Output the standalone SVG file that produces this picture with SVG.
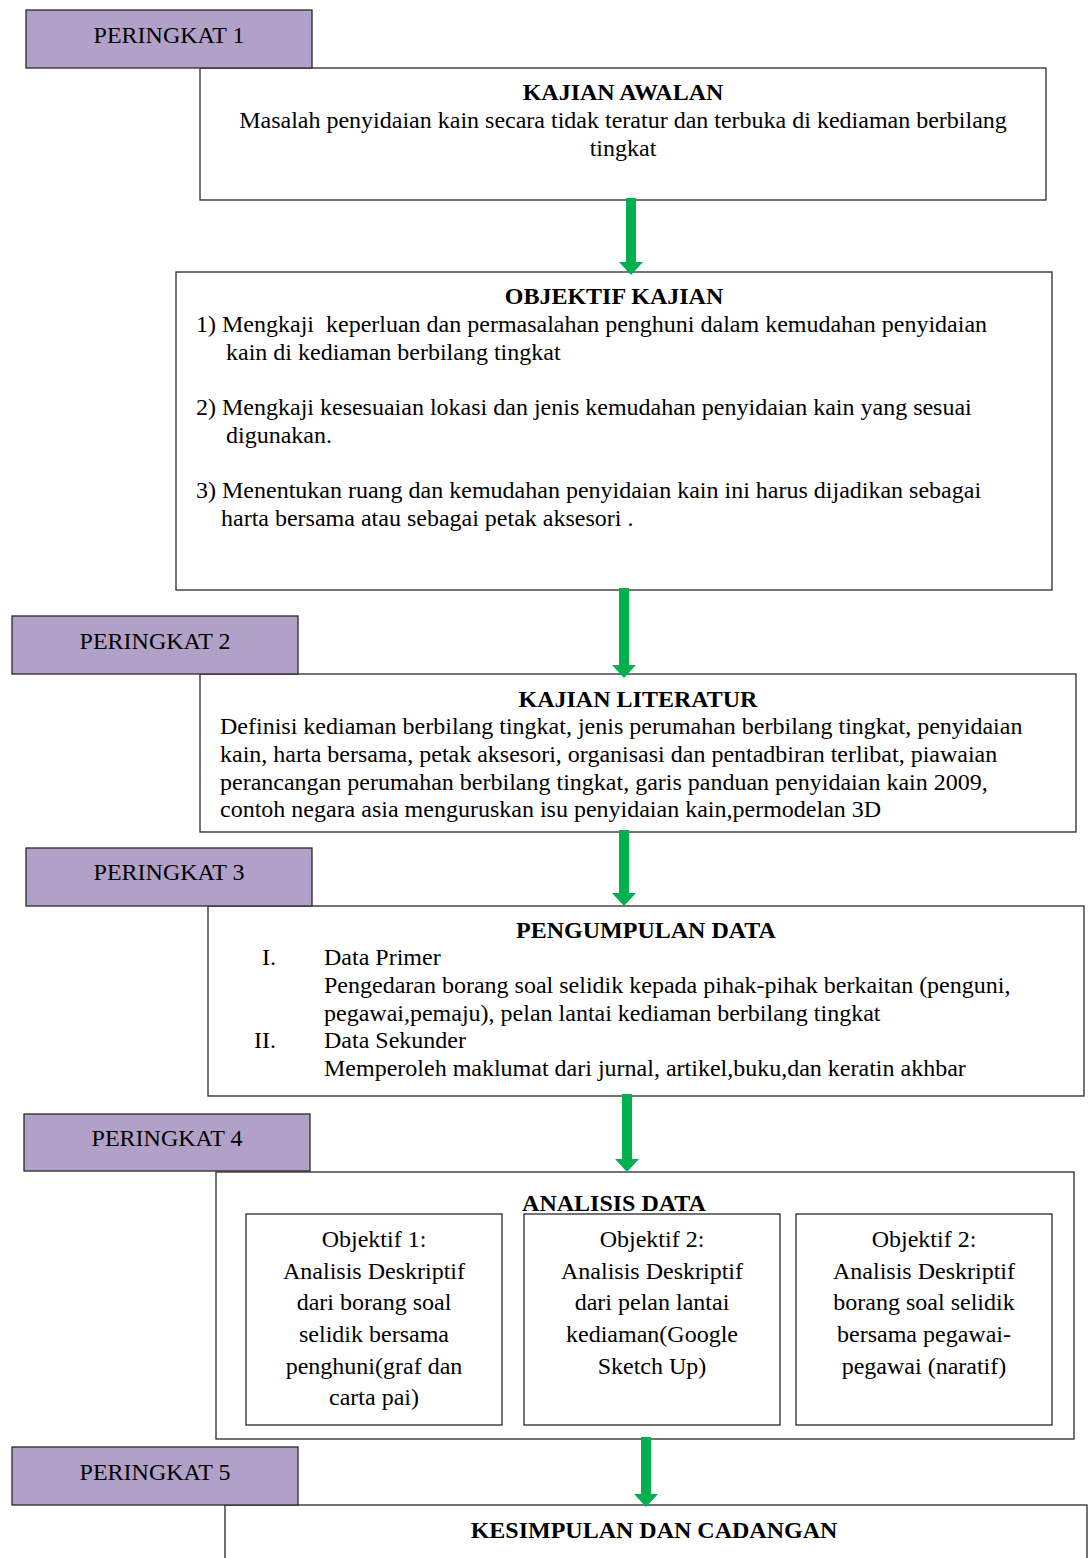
<svg xmlns="http://www.w3.org/2000/svg" width="1091" height="1558" viewBox="0 0 1091 1558" font-family="Liberation Serif, Times New Roman, Times, serif">
<style>
.stage{fill:#B1A0C7;stroke:#2a2a2a;stroke-width:1.3}
.box{fill:#fff;stroke:#2a2a2a;stroke-width:1.3}
text{font-family:'Liberation Serif',Tinos,'Times New Roman',Times,serif;font-size:24px;fill:#000}
.t{font-weight:bold;text-anchor:middle}
.c{text-anchor:middle}
.arrow{fill:#00B050}
</style>
<rect width="1091" height="1558" fill="#fff"/>

<g id="kajian-awalan">
<rect class="box" x="200" y="68" width="846" height="132"/>
<text class="t" x="623" y="100">KAJIAN AWALAN</text>
<text class="c" x="623" y="128">Masalah penyidaian kain secara tidak teratur dan terbuka di kediaman berbilang</text>
<text class="c" x="623" y="156">tingkat</text>
</g>
<g id="peringkat1">
<rect class="stage" x="26" y="10" width="286" height="58"/>
<text class="c" x="169" y="43">PERINGKAT 1</text>
</g>

<g id="objektif-kajian">
<rect class="box" x="176" y="272" width="876" height="318"/>
<text class="t" x="614" y="304">OBJEKTIF KAJIAN</text>
<text x="196" y="332" xml:space="preserve">1) Mengkaji  keperluan dan permasalahan penghuni dalam kemudahan penyidaian</text>
<text x="226" y="360">kain di kediaman berbilang tingkat</text>
<text x="196" y="415">2) Mengkaji kesesuaian lokasi dan jenis kemudahan penyidaian kain yang sesuai</text>
<text x="226" y="443">digunakan.</text>
<text x="196" y="498">3) Menentukan ruang dan kemudahan penyidaian kain ini harus dijadikan sebagai</text>
<text x="221" y="526">harta bersama atau sebagai petak aksesori .</text>
</g>

<g id="kajian-literatur">
<rect class="box" x="200" y="674" width="876" height="158"/>
<text class="t" x="638" y="707">KAJIAN LITERATUR</text>
<text x="220" y="734">Definisi kediaman berbilang tingkat, jenis perumahan berbilang tingkat, penyidaian</text>
<text x="220" y="762">kain, harta bersama, petak aksesori, organisasi dan pentadbiran terlibat, piawaian</text>
<text x="220" y="790">perancangan perumahan berbilang tingkat, garis panduan penyidaian kain 2009,</text>
<text x="220" y="817">contoh negara asia menguruskan isu penyidaian kain,permodelan 3D</text>
</g>
<g id="peringkat2">
<rect class="stage" x="12" y="616" width="286" height="58"/>
<text class="c" x="155" y="649">PERINGKAT 2</text>
</g>

<g id="pengumpulan-data">
<rect class="box" x="208" y="906" width="876" height="190"/>
<text class="t" x="646" y="938">PENGUMPULAN DATA</text>
<text x="262" y="965">I.</text>
<text x="324" y="965">Data Primer</text>
<text x="324" y="993">Pengedaran borang soal selidik kepada pihak-pihak berkaitan (penguni,</text>
<text x="324" y="1021">pegawai,pemaju), pelan lantai kediaman berbilang tingkat</text>
<text x="254" y="1048">II.</text>
<text x="324" y="1048">Data Sekunder</text>
<text x="324" y="1076">Memperoleh maklumat dari jurnal, artikel,buku,dan keratin akhbar</text>
</g>
<g id="peringkat3">
<rect class="stage" x="26" y="848" width="286" height="58"/>
<text class="c" x="169" y="880">PERINGKAT 3</text>
</g>

<g id="analisis-data">
<rect class="box" x="216" y="1172" width="858" height="267"/>
<text class="t" x="614" y="1211">ANALISIS DATA</text>
</g>
<g id="objektif1">
<rect class="box" x="246" y="1214" width="256" height="211"/>
<text class="c" x="374" y="1247">Objektif 1:</text>
<text class="c" x="374" y="1279">Analisis Deskriptif</text>
<text class="c" x="374" y="1310">dari borang soal</text>
<text class="c" x="374" y="1342">selidik bersama</text>
<text class="c" x="374" y="1374">penghuni(graf dan</text>
<text class="c" x="374" y="1405">carta pai)</text>
</g>
<g id="objektif2a">
<rect class="box" x="524" y="1214" width="256" height="211"/>
<text class="c" x="652" y="1247">Objektif 2:</text>
<text class="c" x="652" y="1279">Analisis Deskriptif</text>
<text class="c" x="652" y="1310">dari pelan lantai</text>
<text class="c" x="652" y="1342">kediaman(Google</text>
<text class="c" x="652" y="1374">Sketch Up)</text>
</g>
<g id="objektif2b">
<rect class="box" x="796" y="1214" width="256" height="211"/>
<text class="c" x="924" y="1247">Objektif 2:</text>
<text class="c" x="924" y="1279">Analisis Deskriptif</text>
<text class="c" x="924" y="1310">borang soal selidik</text>
<text class="c" x="924" y="1342">bersama pegawai-</text>
<text class="c" x="924" y="1374">pegawai (naratif)</text>
</g>
<g id="peringkat4">
<rect class="stage" x="24" y="1114" width="286" height="57"/>
<text class="c" x="167" y="1146">PERINGKAT 4</text>
</g>

<g id="kesimpulan">
<rect class="box" x="225" y="1505" width="862" height="70"/>
<text class="t" x="654" y="1538">KESIMPULAN DAN CADANGAN</text>
</g>
<g id="peringkat5">
<rect class="stage" x="12" y="1447" width="286" height="58"/>
<text class="c" x="155" y="1480">PERINGKAT 5</text>
</g>

<g id="connectors">
<polygon class="arrow" points="626,198 636,198 636,262 643,262 631,275 619,262 626,262"/>
<polygon class="arrow" points="619,588 629,588 629,665 636,665 624,678 612,665 619,665"/>
<polygon class="arrow" points="619,830 629,830 629,893 636,893 624,906 612,893 619,893"/>
<polygon class="arrow" points="622,1094 632,1094 632,1159 639,1159 627,1172 615,1159 622,1159"/>
<polygon class="arrow" points="641,1437 651,1437 651,1494 658,1494 646,1507 634,1494 641,1494"/>
</g>
</svg>
